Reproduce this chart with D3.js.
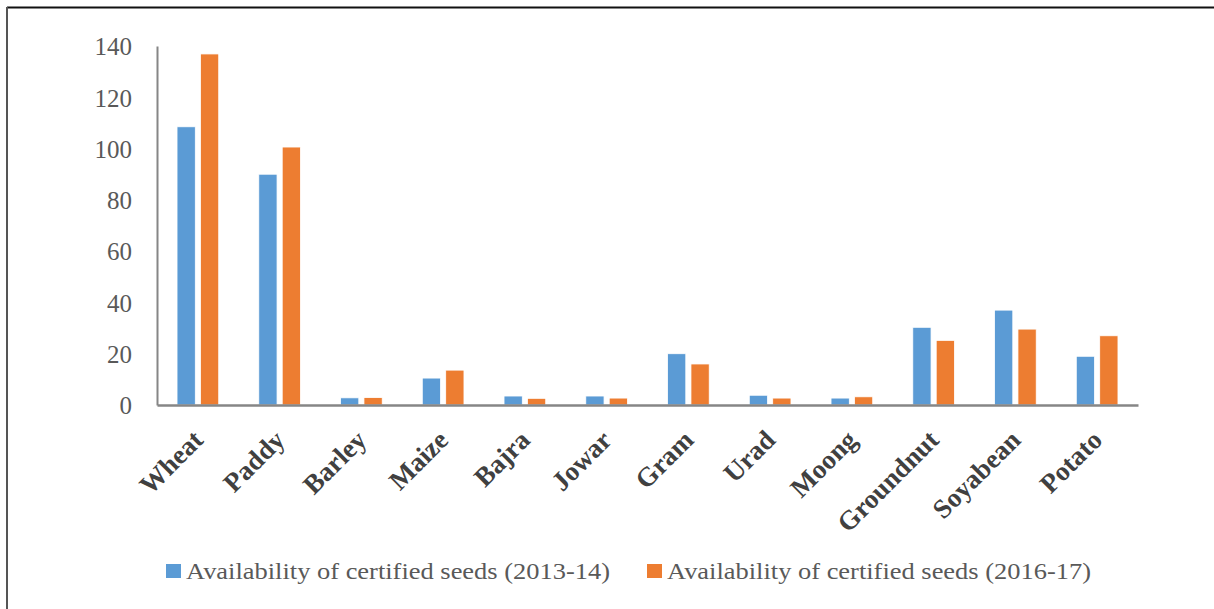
<!DOCTYPE html>
<html>
<head>
<meta charset="UTF-8">
<title>Availability of certified seeds</title>
<style>
  body { margin: 0; background: #fff; }
  svg text { font-family: "Liberation Serif", "DejaVu Serif", serif; }
</style>
</head>
<body>
<script src="https://cdn.jsdelivr.net/npm/d3@7/dist/d3.min.js"></script>
<script>
// crops on the x axis
var crops = ["Wheat", "Paddy", "Barley", "Maize", "Bajra", "Jowar", "Gram", "Urad", "Moong", "Groundnut", "Soyabean", "Potato"];
// series names, in legend order
var seriesNames = ["Availability of certified seeds (2013-14)", "Availability of certified seeds (2016-17)"];
// values
var seeds2013 = [108.5, 90.0, 2.8, 10.5, 3.5, 3.5, 20.0, 3.8, 2.7, 30.3, 37.0, 19.0];
var seeds2016 = [136.9, 100.6, 2.9, 13.6, 2.6, 2.7, 16.0, 2.7, 3.2, 25.2, 29.6, 27.0];
var yTicks = [0, 20, 40, 60, 80, 100, 120, 140];
var colors = ["#5b9bd5", "#ed7d31"];

var width = 1214, height = 609;
var m = {left: 157, right: 1138, top: 46, bottom: 405};

var svg = d3.select("body").append("svg")
  .attr("width", width)
  .attr("height", height);

// frame: top and left edges only
svg.append("line").attr("x1", 7).attr("x2", width).attr("y1", 7.5).attr("y2", 7.5)
  .attr("stroke", "#111").attr("stroke-width", 2);
svg.append("line").attr("x1", 7).attr("x2", 7).attr("y1", 7).attr("y2", height)
  .attr("stroke", "#555").attr("stroke-width", 2);

var x0 = d3.scaleBand().domain(crops).range([m.left, m.right])
  .paddingInner(0.49).paddingOuter(0.245);
var x1 = d3.scaleBand().domain([0, 1]).range([0, x0.bandwidth()]).paddingInner(0.22);
var y = d3.scaleLinear().domain([0, 140]).range([m.bottom, m.top]);

var rows = crops.map(function(c, i) { return {crop: c, vals: [seeds2013[i], seeds2016[i]]}; });

var groups = svg.append("g").selectAll("g")
  .data(rows).enter().append("g")
  .attr("transform", function(d) { return "translate(" + x0(d.crop) + ",0)"; });

groups.selectAll("rect")
  .data(function(d) { return d.vals.map(function(v, k) { return {k: k, v: v}; }); })
  .enter().append("rect")
  .attr("x", function(d) { return x1(d.k); })
  .attr("width", x1.bandwidth())
  .attr("y", function(d) { return y(d.v); })
  .attr("height", function(d) { return y(0) - y(d.v); })
  .attr("fill", function(d) { return colors[d.k]; })
  .attr("stroke", "#fff")
  .attr("stroke-width", 0.8);

// y axis
var yAxis = svg.append("g")
  .attr("transform", "translate(" + m.left + ",0)")
  .call(d3.axisLeft(y).tickValues(yTicks).tickSize(0).tickPadding(25));
yAxis.select(".domain").attr("stroke", "#868686").attr("stroke-width", 2);
yAxis.selectAll("text")
  .attr("fill", "#595959")
  .style("font-size", "25px")
  .attr("dy", "0.35em");

// x axis
var xAxis = svg.append("g")
  .attr("transform", "translate(0," + m.bottom + ")")
  .call(d3.axisBottom(x0).tickSize(0).tickFormat(""));
xAxis.select(".domain").attr("stroke", "#868686").attr("stroke-width", 2.5);

svg.append("g").selectAll("text")
  .data(crops).enter().append("text")
  .attr("transform", function(d) {
    return "translate(" + (x0(d) + x0.bandwidth() / 2) + "," + (m.bottom + 30) + ") rotate(-45)";
  })
  .attr("text-anchor", "end")
  .attr("dy", "0.35em")
  .attr("fill", "#404040")
  .style("font-size", "27px")
  .style("font-weight", "bold")
  .text(function(d) { return d; });

// legend
var legendX = [166, 647];
var legend = svg.append("g").selectAll("g")
  .data(seriesNames).enter().append("g")
  .attr("transform", function(d, i) { return "translate(" + legendX[i] + ",564)"; });
legend.append("rect")
  .attr("width", 15).attr("height", 14)
  .attr("fill", function(d, i) { return colors[i]; });
legend.append("text")
  .attr("x", 20).attr("y", 7)
  .attr("dy", "0.35em")
  .attr("fill", "#595959")
  .style("font-size", "24px")
  .attr("textLength", 424)
  .attr("lengthAdjust", "spacingAndGlyphs")
  .text(function(d) { return d; });
</script>
</body>
</html>
